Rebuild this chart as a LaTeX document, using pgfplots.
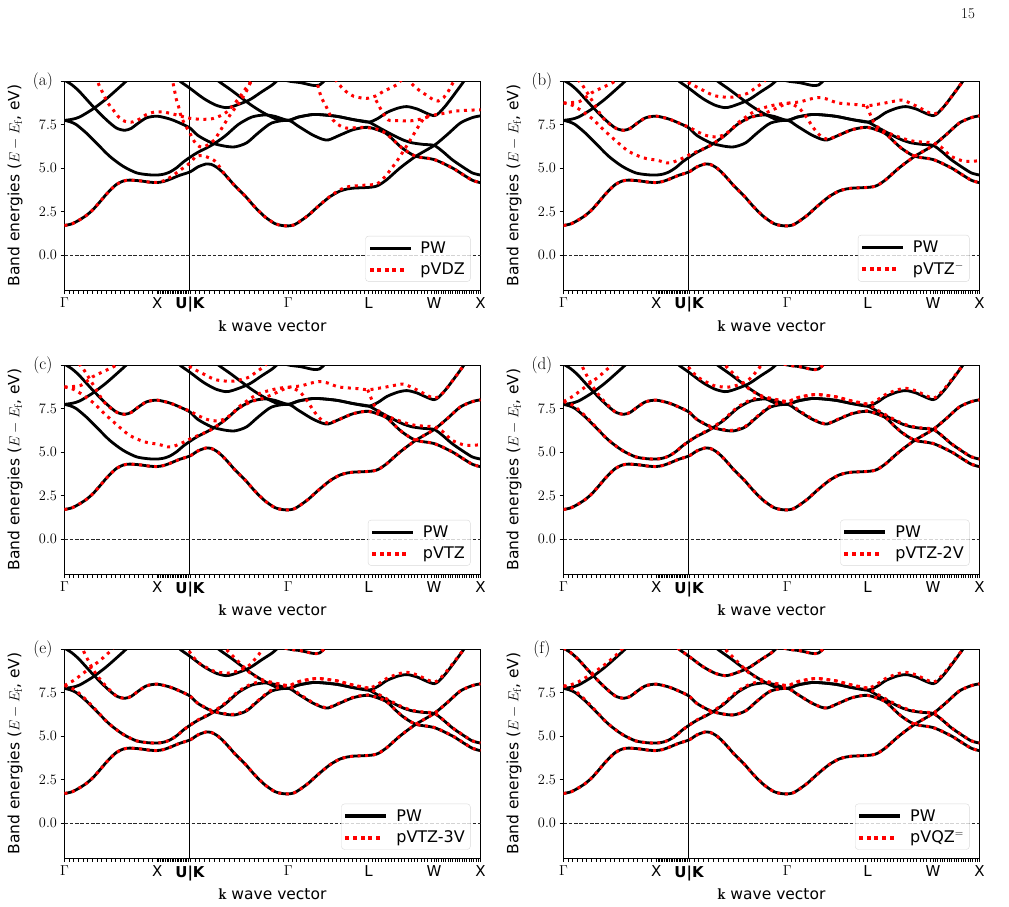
\documentclass[border=0pt]{standalone}
\usepackage{fontspec}
\usepackage{pgfplots}
\usepackage{pgfplotstable}
\pgfplotsset{compat=1.18}
\newfontfamily\dejavu{DejaVu Sans}

% ---------- PW reference bands (k along Gamma-X-U|K-Gamma-L-W-X, E in eV) ----------
\pgfplotstableread[row sep=\\]{k E\\
0 1.70\\0.08 1.80\\0.16 2.02\\0.24 2.30\\0.31 2.63\\0.38 3.05\\0.45 3.49\\0.51 3.82\\0.56 4.06\\0.63 4.25\\0.70 4.31\\0.81 4.27\\0.92 4.19\\1.00 4.17\\1.07 4.23\\1.135 4.35\\1.24 4.58\\1.3536 4.78\\1.44 5.07\\1.53 5.24\\1.58 5.22\\1.65 5.02\\1.73 4.63\\1.84 3.97\\1.95 3.39\\2.05 2.78\\2.16 2.21\\2.27 1.81\\2.35 1.70\\2.4142 1.68\\2.47 1.73\\2.52 1.87\\2.63 2.29\\2.74 2.82\\2.865 3.36\\2.97 3.68\\3.05 3.80\\3.12 3.85\\3.20 3.87\\3.28 3.89\\3.34 3.93\\3.39 4.02\\3.48 4.35\\3.62 5.01\\3.79 5.68\\3.9873 6.30\\4.13 6.93\\4.27 7.59\\4.40 7.90\\4.4873 8.00\\}\bA
\pgfplotstableread[row sep=\\]{k E\\
0 7.74\\0.06 7.66\\0.126 7.50\\0.234 7.02\\0.342 6.45\\0.487 5.68\\0.63 5.11\\0.775 4.73\\0.90 4.62\\1.00 4.60\\1.07 4.65\\1.135 4.77\\1.21 5.02\\1.28 5.34\\1.3536 5.62\\1.44 5.91\\1.586 6.31\\1.73 6.83\\1.874 7.50\\2.02 7.93\\2.16 8.05\\2.27 7.97\\2.4142 7.74\\2.523 7.93\\2.667 8.07\\2.757 8.07\\2.94 7.97\\3.117 7.78\\3.28 7.64\\3.40 7.30\\3.53 6.93\\3.65 6.62\\3.75 6.45\\3.87 6.36\\3.9873 6.30\\4.08 5.95\\4.18 5.49\\4.30 5.05\\4.40 4.72\\4.4873 4.60\\}\bB
\pgfplotstableread[row sep=\\]{k E\\
0 10.05\\0.08 9.78\\0.16 9.40\\0.306 8.55\\0.45 7.78\\0.56 7.30\\0.65 7.17\\0.72 7.28\\0.775 7.50\\0.883 7.88\\1.00 7.98\\1.135 7.82\\1.243 7.59\\1.3536 7.30\\1.44 6.87\\1.586 6.45\\1.73 6.26\\1.84 6.22\\1.965 6.45\\2.09 7.02\\2.235 7.59\\2.4142 7.74\\2.523 7.40\\2.667 6.93\\2.78 6.66\\2.85 6.62\\2.974 6.90\\3.117 7.21\\3.28 7.34\\3.46 7.02\\3.53 6.70\\3.64 6.16\\3.787 5.68\\3.9873 5.49\\4.18 5.02\\4.30 4.62\\4.40 4.30\\4.4873 4.16\\}\bC
\pgfplotstableread[row sep=\\]{k E\\
0 7.74\\0.08 7.80\\0.162 7.93\\0.306 8.39\\0.45 8.97\\0.595 9.65\\0.667 10.0\\0.72 10.3\\}\bD
\pgfplotstableread[row sep=\\]{k E\\
1.18 10.4\\1.243 10.0\\1.30 9.78\\1.3536 9.58\\1.5 9.0\\1.63 8.62\\1.74 8.47\\1.82 8.55\\1.99 8.9\\2.13 9.39\\2.24 9.77\\2.31 10.1\\}\bE
\pgfplotstableread[row sep=\\]{k E\\
1.62 10.3\\1.66 10.0\\1.797 9.48\\2.013 8.62\\2.157 8.14\\2.301 7.78\\2.4142 7.74\\2.523 7.93\\2.667 8.07\\2.757 8.07\\2.94 7.97\\3.117 7.78\\3.28 7.64\\3.38 7.85\\3.48 8.20\\3.60 8.45\\3.694 8.53\\3.80 8.40\\3.9873 8.01\\4.09 8.45\\4.2 9.2\\4.31 10.0\\4.35 10.3\\}\bF
\pgfplotstableread[row sep=\\]{k E\\
2.30 10.2\\2.4142 10.0\\2.55 9.9\\2.68 9.75\\2.75 9.77\\2.82 10.1\\}\bG

% ---------- pVDZ ----------
\pgfplotstableread[row sep=\\]{k E\\
0 1.70\\0.08 1.80\\0.16 2.02\\0.24 2.30\\0.31 2.63\\0.38 3.05\\0.45 3.49\\0.51 3.82\\0.56 4.06\\0.63 4.25\\0.70 4.31\\0.81 4.27\\0.92 4.19\\1.00 4.18\\1.07 4.27\\1.135 4.45\\1.24 4.85\\1.3536 5.30\\1.418 5.67\\1.49 5.72\\1.545 5.62\\1.617 5.43\\1.67 5.09\\1.73 4.63\\1.84 3.97\\1.95 3.39\\2.05 2.78\\2.16 2.21\\2.27 1.81\\2.35 1.70\\2.4142 1.68\\2.47 1.73\\2.52 1.87\\2.63 2.29\\2.74 2.82\\2.865 3.38\\2.97 3.75\\3.05 3.92\\3.187 4.00\\3.28 4.03\\3.367 4.08\\3.42 4.30\\3.475 4.62\\3.583 5.38\\3.709 6.43\\3.806 7.29\\3.87 7.80\\3.93 8.00\\4.05 8.10\\4.20 8.26\\4.35 8.32\\4.4873 8.35\\}\rAa
\pgfplotstableread[row sep=\\]{k E\\
1.16 10.3\\1.171 9.88\\1.189 9.4\\1.207 8.93\\1.232 8.5\\1.25 8.1\\1.28 7.7\\1.31 7.4\\1.3536 7.0\\1.40 6.53\\1.454 6.24\\1.50 6.22\\1.545 6.33\\1.617 6.62\\1.707 7.38\\1.797 8.14\\1.905 8.9\\1.977 9.57\\2.02 10.1\\}\rAb
\pgfplotstableread[row sep=\\]{k E\\
0.34 10.3\\0.36 9.92\\0.396 9.5\\0.468 8.74\\0.523 8.36\\0.577 7.97\\0.649 7.69\\0.739 7.65\\0.811 7.82\\0.883 8.07\\0.973 8.22\\1.063 8.22\\1.153 8.13\\1.243 8.0\\1.3536 7.86\\1.418 7.82\\1.5 7.80\\1.599 7.84\\1.68 8.0\\1.761 8.26\\1.869 8.93\\1.959 9.6\\2.013 9.98\\2.04 10.2\\}\rAc
\pgfplotstableread[row sep=\\]{k E\\
2.71 10.2\\2.75 9.39\\2.78 8.95\\2.823 8.53\\2.86 8.1\\2.895 7.77\\2.95 7.5\\3.039 7.3\\3.219 7.34\\3.363 7.25\\3.435 7.1\\3.53 6.70\\3.64 6.16\\3.787 5.68\\3.9873 5.49\\4.18 5.02\\4.30 4.62\\4.40 4.30\\4.4873 4.16\\}\rAd
\pgfplotstableread[row sep=\\]{k E\\
2.92 10.1\\2.966 9.77\\3.039 9.39\\3.12 9.12\\3.255 9.0\\3.36 9.15\\3.435 9.39\\3.58 9.77\\3.64 10.1\\}\rAe
\pgfplotstableread[row sep=\\]{k E\\
3.70 10.2\\3.742 9.86\\3.83 9.45\\3.904 9.19\\3.97 8.95\\4.03 8.85\\4.09 9.05\\4.138 9.39\\4.19 9.9\\4.22 10.2\\}\rAf
\pgfplotstableread[row sep=\\]{k E\\
3.36 8.9\\3.42 8.3\\3.49 7.77\\3.60 7.72\\3.75 7.72\\3.87 7.85\\3.95 8.0\\}\rAg

% ---------- pVTZ-, pVTZ ----------
\pgfplotstableread[row sep=\\]{k E\\
0 8.74\\0.09 8.62\\0.176 8.36\\0.30 7.88\\0.43 7.21\\0.57 6.54\\0.70 5.97\\0.86 5.59\\1.02 5.44\\1.11 5.30\\1.18 5.34\\1.27 5.53\\1.3536 5.75\\1.44 5.95\\1.586 6.30\\1.73 6.85\\1.874 7.50\\2.02 7.90\\2.16 8.12\\2.30 8.45\\2.4142 8.72\\2.55 8.80\\2.65 8.95\\2.75 9.05\\2.85 8.95\\2.958 8.74\\3.17 8.64\\3.28 8.58\\3.45 8.72\\3.60 8.87\\3.67 8.89\\3.81 8.55\\3.9873 8.10\\4.09 8.45\\4.2 9.2\\4.31 10.0\\4.35 10.3\\}\rBb
\pgfplotstableread[row sep=\\]{k E\\
0.10 10.4\\0.194 9.84\\0.30 8.95\\0.43 7.85\\0.56 7.30\\0.65 7.17\\0.72 7.28\\0.775 7.50\\0.883 7.88\\1.00 7.98\\1.135 7.82\\1.243 7.59\\1.3536 7.35\\1.432 7.12\\1.54 6.87\\1.648 6.79\\1.738 6.93\\1.81 7.21\\1.88 7.59\\1.953 7.88\\2.06 8.26\\2.15 8.45\\2.30 8.65\\2.4142 8.72\\2.50 8.58\\2.55 8.40\\2.62 7.93\\2.69 7.35\\2.764 6.89\\2.85 6.66\\2.974 6.90\\3.117 7.21\\3.28 7.34\\3.46 7.02\\3.53 6.70\\3.64 6.16\\3.787 5.68\\3.9873 5.49\\4.18 5.02\\4.30 4.62\\4.40 4.30\\4.4873 4.16\\}\rBc
\pgfplotstableread[row sep=\\]{k E\\
0 8.74\\0.176 8.83\\0.30 9.31\\0.446 9.69\\0.535 9.92\\0.60 10.2\\}\rBd
\pgfplotstableread[row sep=\\]{k E\\
1.30 10.3\\1.3536 9.9\\1.472 9.56\\1.615 9.18\\1.73 9.08\\1.83 9.08\\1.975 9.27\\2.083 9.65\\2.155 9.93\\2.20 10.2\\}\rBe
\pgfplotstableread[row sep=\\]{k E\\
3.27 8.58\\3.30 8.2\\3.33 7.8\\3.38 7.4\\3.459 7.11\\3.56 6.90\\3.674 6.68\\3.80 6.52\\3.9873 6.45\\4.07 6.22\\4.18 5.68\\4.32 5.40\\4.4873 5.42\\}\rBf

% ---------- pVTZ-2V, pVTZ-3V, pVQZ= ----------
\pgfplotstableread[row sep=\\]{k E\\
0 7.90\\0.06 7.80\\0.126 7.60\\0.234 7.08\\0.342 6.48\\0.487 5.68\\0.63 5.11\\0.775 4.73\\0.90 4.62\\1.00 4.60\\1.07 4.65\\1.135 4.77\\1.21 5.02\\1.28 5.34\\1.3536 5.62\\1.44 5.93\\1.586 6.34\\1.73 6.88\\1.874 7.56\\2.02 8.0\\2.16 8.15\\2.27 8.05\\2.4142 7.90\\2.523 8.12\\2.667 8.28\\2.757 8.30\\2.94 8.17\\3.117 7.92\\3.28 7.75\\3.40 7.36\\3.53 6.98\\3.65 6.66\\3.75 6.48\\3.87 6.38\\3.9873 6.32\\4.08 5.96\\4.18 5.50\\4.30 5.06\\4.40 4.73\\4.4873 4.61\\}\rDb
\pgfplotstableread[row sep=\\]{k E\\
0.18 10.3\\0.20 9.95\\0.25 9.4\\0.306 8.85\\0.37 8.35\\0.45 7.85\\0.56 7.30\\0.65 7.17\\0.72 7.28\\0.775 7.50\\0.883 7.88\\1.00 7.98\\1.135 7.82\\1.243 7.59\\1.3536 7.30\\1.44 6.88\\1.586 6.47\\1.73 6.29\\1.84 6.26\\1.965 6.49\\2.09 7.05\\2.235 7.65\\2.4142 7.88\\2.523 7.45\\2.667 6.96\\2.78 6.68\\2.85 6.64\\2.974 6.92\\3.117 7.23\\3.28 7.36\\3.46 7.03\\3.53 6.71\\3.64 6.17\\3.787 5.69\\3.9873 5.50\\4.18 5.03\\4.30 4.63\\4.40 4.31\\4.4873 4.17\\}\rDc
\pgfplotstableread[row sep=\\]{k E\\
0 7.90\\0.1 8.2\\0.2 8.6\\0.3 9.0\\0.395 9.4\\0.5 9.9\\0.53 10.1\\0.56 10.3\\}\rDd
\pgfplotstableread[row sep=\\]{k E\\
1.32 10.3\\1.3536 9.85\\1.45 9.3\\1.615 8.83\\1.72 8.74\\1.795 8.74\\1.9 8.88\\1.99 9.12\\2.06 9.5\\2.118 9.88\\2.15 10.2\\}\rDe
\pgfplotstableread[row sep=\\]{k E\\
1.70 10.3\\1.74 10.0\\1.88 9.25\\2.02 8.55\\2.2 8.1\\2.4142 7.90\\2.523 8.12\\2.667 8.28\\2.757 8.30\\2.94 8.17\\3.117 7.92\\3.28 7.75\\3.38 7.98\\3.48 8.32\\3.60 8.57\\3.694 8.66\\3.80 8.52\\3.9873 8.10\\4.09 8.52\\4.2 9.25\\4.31 10.0\\4.35 10.3\\}\rDf
\pgfplotstableread[row sep=\\]{k E\\
1.32 10.3\\1.3536 9.8\\1.45 9.2\\1.615 8.72\\1.72 8.63\\1.795 8.63\\1.9 8.8\\1.99 9.05\\2.06 9.45\\2.118 9.85\\2.15 10.2\\}\rEe
\pgfplotstableread[row sep=\\]{k E\\
0 7.85\\0.08 7.95\\0.162 8.12\\0.306 8.58\\0.45 9.12\\0.595 9.78\\0.64 10.05\\0.70 10.3\\}\rFd

% k-point ticks: 20 steps on each segment of the path
\def\mtl{0}
\newcommand\addseg[2]{\foreach \i in {1,...,20}{\pgfmathsetmacro\t{#1+(#2-#1)*\i/20}\xdef\mtl{\mtl,\t}}}
\addseg{0}{1}\addseg{1}{1.35355}\addseg{1.35355}{2.41421}\addseg{2.41421}{3.28024}\addseg{3.28024}{3.98735}\addseg{3.98735}{4.48735}

\pgfplotsset{
  pw/.style={black, line width=2.8pt, line join=round, smooth, tension=0.45, no marks},
  rd/.style={red, line width=3pt, dash pattern=on 3pt off 4.6pt, smooth, tension=0.45, no marks},
  bandaxis/.style={
    scale only axis, width=416pt, height=209pt, anchor=north west,
    xmin=0, xmax=4.4873, ymin=-2, ymax=10,
    clip mode=individual,
    axis line style={line width=0.8pt},
    tick align=outside, xtick pos=bottom, ytick pos=left,
    major tick length=4pt, minor tick length=3.5pt,
    tick style={black, line width=0.8pt},
    minor tick style={black, line width=0.7pt},
    xtick={0,1,1.35355,2.41421,3.28024,3.98735,4.48735},
    xticklabels={$\Gamma$, {\dejavu X}, {\dejavu\bfseries U|K}, $\Gamma$, {\dejavu L}, {\dejavu W}, {\dejavu X}},
    minor xtick/.expanded={\mtl},
    ytick={0,2.5,5,7.5,10},
    yticklabels={$0.0$,$2.5$,$5.0$,$7.5$,{}},
    tick label style={font=\fontsize{15}{18}\selectfont},
    xlabel={$\mathbf{k}$ {\dejavu wave vector}},
    ylabel={{\dejavu Band energies (}$E-E_{\mathrm{f}}${\dejavu , eV)}},
    label style={font=\fontsize{15.5}{18}\selectfont},
    xlabel style={at={(axis description cs:0.5,0)}, anchor=center, yshift=-36pt},
    ylabel style={at={(axis description cs:-0.119,0.5)}, anchor=center},
    legend cell align=left,
    legend style={at={(axis description cs:0.976,0.04)}, anchor=south east,
      draw=black!15, rounded corners=3pt,
      fill=white, fill opacity=0.8, text opacity=1, draw opacity=1,
      inner xsep=4pt, inner ysep=4pt, row sep=5pt,
      nodes={inner sep=1.5pt},
      /tikz/every odd column/.style={column sep=9pt},
      font=\dejavu\fontsize{16}{18}\selectfont},
  },
}

% legend keys: a solid black bar and a row of red dots, then the PW bands
\newcommand\pwbands[1]{%
  \addlegendimage{legend image code/.code={\fill[sharp corners, black, opacity=1] (0pt,-1.4pt) rectangle (40pt,1.4pt);}}\addlegendentry{PW}
  \addlegendimage{legend image code/.code={\foreach \d in {0,7.6,...,38}{\fill[sharp corners, red, opacity=1] (\d pt,-1.5pt) rectangle ++(3pt,3pt);}}}\addlegendentry{#1}
  \addplot[black, line width=1pt, forget plot] coordinates {(1.35355,-2) (1.35355,10)};
  \addplot[black!85, line width=0.9pt, dash pattern=on 3.5pt off 1.8pt, forget plot] coordinates {(0,0) (4.48735,0)};
  \addplot[pw, forget plot] table {\bA};
  \addplot[pw, forget plot] table {\bB};
  \addplot[pw, forget plot] table {\bC};
  \addplot[pw, forget plot] table {\bD};
  \addplot[pw, forget plot] table {\bE};
  \addplot[pw, forget plot] table {\bF};
  \addplot[pw, forget plot] table {\bG};
}
\newcommand\panel[1]{\node[anchor=center, font=\fontsize{17}{19}\selectfont] at (axis description cs:-0.052,1.0) {(#1)};}

\begin{document}
\begin{tikzpicture}[font=\fontsize{15}{18}\selectfont]
\path[use as bounding box] (0pt,0pt) rectangle (1009pt,-907pt);
\node[anchor=center] at (968pt,-14pt) {15};

% (a) pVDZ
\begin{axis}[bandaxis, at={(64.5pt,-81pt)}]
\pwbands{pVDZ}
\addplot[rd, forget plot] table {\rAa};
\addplot[rd, forget plot] table {\rAb};
\addplot[rd, forget plot] table {\rAc};
\addplot[rd, forget plot] table {\rAd};
\addplot[rd, forget plot] table {\rAe};
\addplot[rd, forget plot] table {\rAf};
\addplot[rd, forget plot] table {\rAg};
\panel{a}
\end{axis}

% (b) pVTZ-
\begin{axis}[bandaxis, at={(563.5pt,-81pt)}]
\pwbands{pVTZ$^{-}$}
\addplot[rd, forget plot] table {\bA};
\addplot[rd, forget plot] table {\rBb};
\addplot[rd, forget plot] table {\rBc};
\addplot[rd, forget plot] table {\rBd};
\addplot[rd, forget plot] table {\rBe};
\addplot[rd, forget plot] table {\rBf};
\panel{b}
\end{axis}

% (c) pVTZ
\begin{axis}[bandaxis, at={(64.5pt,-365pt)}]
\pwbands{pVTZ}
\addplot[rd, forget plot] table {\bA};
\addplot[rd, forget plot] table {\rBb};
\addplot[rd, forget plot] table {\rBc};
\addplot[rd, forget plot] table {\rBd};
\addplot[rd, forget plot] table {\rBe};
\addplot[rd, forget plot] table {\rBf};
\panel{c}
\end{axis}

% (d) pVTZ-2V
\begin{axis}[bandaxis, at={(563.5pt,-365pt)}]
\pwbands{pVTZ-2V}
\addplot[rd, forget plot] table {\bA};
\addplot[rd, forget plot] table {\rDb};
\addplot[rd, forget plot] table {\rDc};
\addplot[rd, forget plot] table {\rDd};
\addplot[rd, forget plot] table {\rDe};
\addplot[rd, forget plot] table {\rDf};
\addplot[rd, forget plot] table {\bG};
\panel{d}
\end{axis}

% (e) pVTZ-3V
\begin{axis}[bandaxis, at={(64.5pt,-649pt)}]
\pwbands{pVTZ-3V}
\addplot[rd, forget plot] table {\bA};
\addplot[rd, forget plot] table {\rDb};
\addplot[rd, forget plot] table {\rDc};
\addplot[rd, forget plot] table {\rDd};
\addplot[rd, forget plot] table {\rEe};
\addplot[rd, forget plot] table {\rDf};
\addplot[rd, forget plot] table {\bG};
\panel{e}
\end{axis}

% (f) pVQZ=
\begin{axis}[bandaxis, at={(563.5pt,-649pt)}]
\pwbands{pVQZ$^{=}$}
\addplot[rd, forget plot] table {\bA};
\addplot[rd, forget plot] table {\rDb};
\addplot[rd, forget plot] table {\bC};
\addplot[rd, forget plot] table {\rFd};
\addplot[rd, forget plot] table {\bE};
\addplot[rd, forget plot] table {\rDf};
\addplot[rd, forget plot] table {\bG};
\panel{f}
\end{axis}
\end{tikzpicture}
\end{document}
